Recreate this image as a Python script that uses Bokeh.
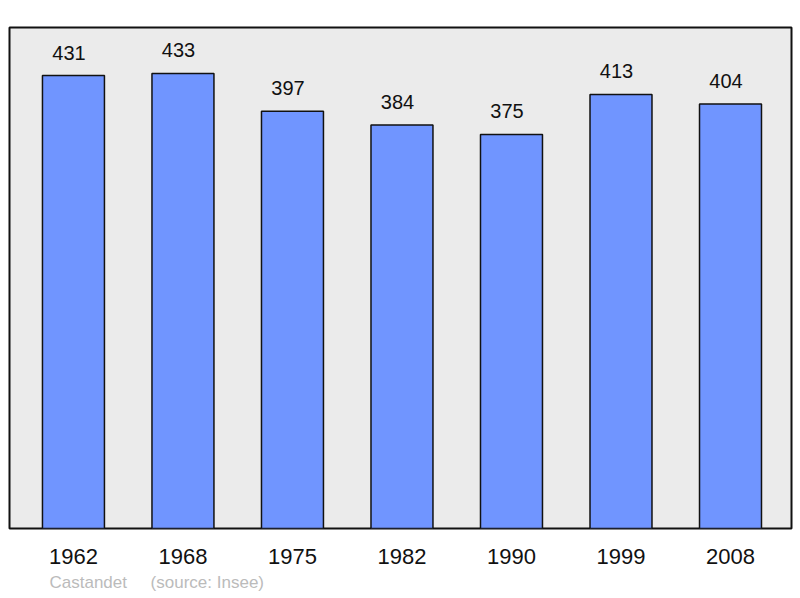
from bokeh.plotting import figure
from bokeh.models import Range1d, FixedTicker, Title, ColumnDataSource
from bokeh.core.properties import value
from bokeh.embed import file_html
from bokeh.resources import INLINE

years = ["1962", "1968", "1975", "1982", "1990", "1999", "2008"]
population = [431, 433, 397, 384, 375, 413, 404]
place = "Castandet"
source_note = "(source: Insee)"

xs = list(range(len(years)))
src = ColumnDataSource(dict(x=xs, top=population, label=[str(v) for v in population]))

FONT = "Liberation Sans"

p = figure(width=794, height=598, output_backend="svg", toolbar_location=None,
           x_range=Range1d(-0.584, 6.557), y_range=Range1d(0, 476.7),
           min_border_left=9, min_border_right=3, min_border_top=27, min_border_bottom=70)

p.background_fill_color = "#ebebeb"
p.border_fill_color = "white"
p.outline_line_color = "#111111"
p.outline_line_width = 2
p.grid.visible = False
p.yaxis.visible = False

p.vbar(x="x", top="top", width=0.566, bottom=0, source=src,
       fill_color="#7095ff", line_color="#111111", line_width=1.5)

p.text(x="x", y="top", text="label", source=src, text_align="center",
       text_baseline="alphabetic", x_offset=-4.5, y_offset=-23, text_font=value(FONT),
       text_font_size="20px", text_color="#111111")

xa = p.xaxis[0]
xa.ticker = FixedTicker(ticks=xs)
xa.major_label_overrides = {i: y for i, y in enumerate(years)}
xa.major_label_text_font = FONT
xa.major_label_text_font_size = "22px"
xa.major_label_text_color = "#111111"
xa.major_tick_line_color = None
xa.minor_tick_line_color = None
xa.axis_line_color = None
xa.major_label_standoff = 14

p.add_layout(Title(text=place + "\u00a0\u00a0\u00a0\u00a0\u00a0" + source_note, align="left", offset=40,
                   text_color="#bbbbbb", text_font=FONT, text_font_size="17px",
                   text_font_style="normal", standoff=9), "below")

open("out.html", "w").write(file_html(p, INLINE))
